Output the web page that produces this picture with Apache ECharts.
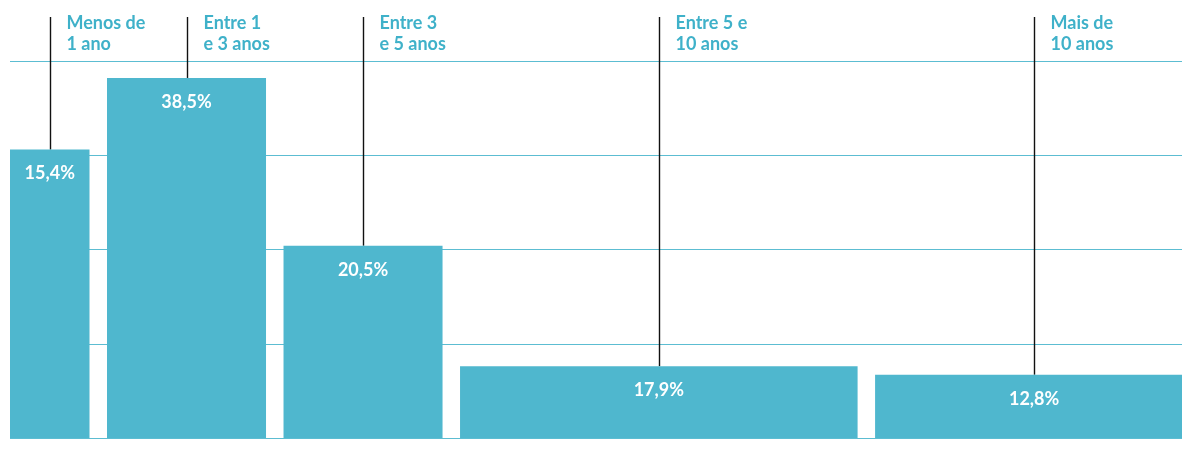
<!DOCTYPE html>
<html>
<head>
<meta charset="utf-8">
<script src="https://cdn.jsdelivr.net/npm/echarts@6/dist/echarts.min.js"></script>
<style>
html,body{margin:0;padding:0;background:#fff;}
#chart{width:1182px;height:450px;}
</style>
</head>
<body>
<div id="chart"></div>
<script>
// Data
var categories = ['Menos de\n1 ano', 'Entre 1\ne 3 anos', 'Entre 3\ne 5 anos', 'Entre 5 e\n10 anos', 'Mais de\n10 anos'];
var percentLabels = ['15,4%', '38,5%', '20,5%', '17,9%', '12,8%'];
var binWidths = [1, 2, 2, 5, 4];           // width of each bin (years)
var barHeights = [15.3, 19.1, 10.2, 3.8, 3.35]; // bar height on the 0–20 scale
var yTicks = [0, 5, 10, 15, 20];

var GAP = 0.22; // gap between bars, in x units (style)
var BAR_COLOR = '#4fb7ce';
var TEXT_COLOR = '#3fb1c9';

var data = [];
var start = 0;
for (var i = 0; i < binWidths.length; i++) {
  data.push([start, start + binWidths[i], barHeights[i], i]);
  start += binWidths[i] + GAP;
}

var chart = echarts.init(document.getElementById('chart'), null, {renderer: 'canvas'});
chart.setOption({
  animation: false,
  grid: {left: 10, right: 0, top: 61, bottom: 12},
  xAxis: {type: 'value', min: 0, max: 14.74, show: false},
  yAxis: {
    type: 'value', min: yTicks[0], max: yTicks[yTicks.length - 1], interval: 5,
    axisLine: {show: false}, axisTick: {show: false}, axisLabel: {show: false},
    splitLine: {show: true, lineStyle: {color: '#5cbdd2', width: 1}}
  },
  series: [{
    type: 'custom',
    clip: false,
    data: data,
    encode: {x: [0, 1], y: 2},
    renderItem: function (params, api) {
      var x0 = api.value(0), x1 = api.value(1), h = api.value(2), idx = api.value(3);
      var p0 = api.coord([x0, h]);
      var p1 = api.coord([x1, 0]);
      var cx = (p0[0] + p1[0]) / 2;
      var lx = Math.round(cx) + 0.5;
      return {
        type: 'group',
        children: [
          {
            type: 'line',
            shape: {x1: lx, y1: 17, x2: lx, y2: p0[1]},
            style: {stroke: '#111', lineWidth: 1.4}
          },
          {
            type: 'rect',
            shape: {x: p0[0], y: p0[1], width: p1[0] - p0[0], height: p1[1] - p0[1]},
            style: {fill: BAR_COLOR}
          },
          {
            type: 'text',
            style: {
              x: cx, y: p0[1] + 24, text: percentLabels[idx],
              fill: '#fff', font: 'bold 18px Lato', align: 'center', verticalAlign: 'middle'
            }
          },
          {
            type: 'text',
            style: {
              x: lx + 16, y: 13, text: categories[idx],
              fill: TEXT_COLOR, font: 'bold 18px Lato', lineHeight: 21,
              align: 'left', verticalAlign: 'top'
            }
          }
        ]
      };
    }
  }]
});
</script>
</body>
</html>
